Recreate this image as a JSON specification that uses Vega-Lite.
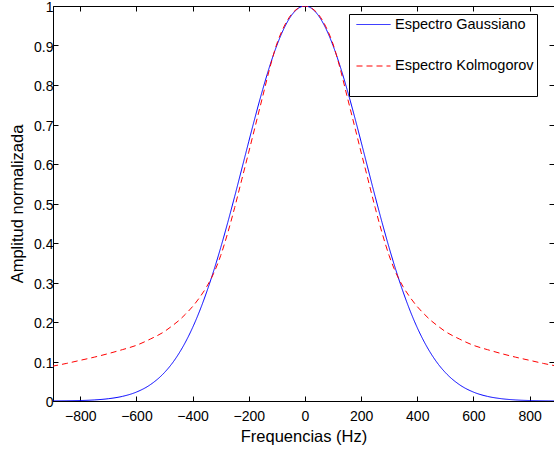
{
  "$schema": "https://vega.github.io/schema/vega-lite/v6.json",
  "width": 501,
  "height": 395,
  "autosize": "none",
  "padding": {"left": 53, "top": 6, "right": 0, "bottom": 53},
  "background": "white",
  "config": {
    "font": "Liberation Sans",
    "view": {"stroke": "black", "strokeWidth": 1},
    "axis": {
      "grid": false,
      "domainColor": "black",
      "tickColor": "black",
      "labelColor": "black",
      "titleColor": "black",
      "labelFont": "Liberation Sans",
      "titleFont": "Liberation Sans",
      "labelFontSize": 14,
      "titleFontSize": 16.5,
      "titleFontWeight": "normal",
      "tickSize": -5
    },
    "legend": {
      "labelFont": "Liberation Sans",
      "labelFontSize": 14.5,
      "labelColor": "black",
      "orient": "none",
      "legendX": 296,
      "legendY": 8,
      "strokeColor": "black",
      "fillColor": "white",
      "padding": 3,
      "symbolType": "M-2.43,0H2.43",
      "symbolSize": 196,
      "symbolStrokeWidth": 1,
      "symbolOffset": 14,
      "labelOffset": 14,
      "rowPadding": 26.5,
      "titleOrient": "bottom",
      "titleFontSize": 10,
      "titlePadding": 9.5,
      "titleColor": "white"
    }
  },
  "data": {
    "values": [
      {"f": -900, "a": 0.0002, "s": "Espectro Gaussiano"},
      {"f": -850, "a": 0.0005, "s": "Espectro Gaussiano"},
      {"f": -800, "a": 0.0012, "s": "Espectro Gaussiano"},
      {"f": -750, "a": 0.0027, "s": "Espectro Gaussiano"},
      {"f": -700, "a": 0.0058, "s": "Espectro Gaussiano"},
      {"f": -650, "a": 0.0117, "s": "Espectro Gaussiano"},
      {"f": -600, "a": 0.0226, "s": "Espectro Gaussiano"},
      {"f": -550, "a": 0.0415, "s": "Espectro Gaussiano"},
      {"f": -500, "a": 0.0721, "s": "Espectro Gaussiano"},
      {"f": -475, "a": 0.0931, "s": "Espectro Gaussiano"},
      {"f": -450, "a": 0.1188, "s": "Espectro Gaussiano"},
      {"f": -425, "a": 0.1495, "s": "Espectro Gaussiano"},
      {"f": -400, "a": 0.1857, "s": "Espectro Gaussiano"},
      {"f": -375, "a": 0.2277, "s": "Espectro Gaussiano"},
      {"f": -350, "a": 0.2756, "s": "Espectro Gaussiano"},
      {"f": -325, "a": 0.3291, "s": "Espectro Gaussiano"},
      {"f": -300, "a": 0.3879, "s": "Espectro Gaussiano"},
      {"f": -275, "a": 0.4513, "s": "Espectro Gaussiano"},
      {"f": -250, "a": 0.5181, "s": "Espectro Gaussiano"},
      {"f": -225, "a": 0.5871, "s": "Espectro Gaussiano"},
      {"f": -200, "a": 0.6565, "s": "Espectro Gaussiano"},
      {"f": -175, "a": 0.7246, "s": "Espectro Gaussiano"},
      {"f": -150, "a": 0.7892, "s": "Espectro Gaussiano"},
      {"f": -125, "a": 0.8484, "s": "Espectro Gaussiano"},
      {"f": -100, "a": 0.9001, "s": "Espectro Gaussiano"},
      {"f": -75, "a": 0.9425, "s": "Espectro Gaussiano"},
      {"f": -50, "a": 0.974, "s": "Espectro Gaussiano"},
      {"f": -25, "a": 0.9934, "s": "Espectro Gaussiano"},
      {"f": 0, "a": 1.0, "s": "Espectro Gaussiano"},
      {"f": 25, "a": 0.9934, "s": "Espectro Gaussiano"},
      {"f": 50, "a": 0.974, "s": "Espectro Gaussiano"},
      {"f": 75, "a": 0.9425, "s": "Espectro Gaussiano"},
      {"f": 100, "a": 0.9001, "s": "Espectro Gaussiano"},
      {"f": 125, "a": 0.8484, "s": "Espectro Gaussiano"},
      {"f": 150, "a": 0.7892, "s": "Espectro Gaussiano"},
      {"f": 175, "a": 0.7246, "s": "Espectro Gaussiano"},
      {"f": 200, "a": 0.6565, "s": "Espectro Gaussiano"},
      {"f": 225, "a": 0.5871, "s": "Espectro Gaussiano"},
      {"f": 250, "a": 0.5181, "s": "Espectro Gaussiano"},
      {"f": 275, "a": 0.4513, "s": "Espectro Gaussiano"},
      {"f": 300, "a": 0.3879, "s": "Espectro Gaussiano"},
      {"f": 325, "a": 0.3291, "s": "Espectro Gaussiano"},
      {"f": 350, "a": 0.2756, "s": "Espectro Gaussiano"},
      {"f": 375, "a": 0.2277, "s": "Espectro Gaussiano"},
      {"f": 400, "a": 0.1857, "s": "Espectro Gaussiano"},
      {"f": 425, "a": 0.1495, "s": "Espectro Gaussiano"},
      {"f": 450, "a": 0.1188, "s": "Espectro Gaussiano"},
      {"f": 475, "a": 0.0931, "s": "Espectro Gaussiano"},
      {"f": 500, "a": 0.0721, "s": "Espectro Gaussiano"},
      {"f": 550, "a": 0.0415, "s": "Espectro Gaussiano"},
      {"f": 600, "a": 0.0226, "s": "Espectro Gaussiano"},
      {"f": 650, "a": 0.0117, "s": "Espectro Gaussiano"},
      {"f": 700, "a": 0.0058, "s": "Espectro Gaussiano"},
      {"f": 750, "a": 0.0027, "s": "Espectro Gaussiano"},
      {"f": 800, "a": 0.0012, "s": "Espectro Gaussiano"},
      {"f": 850, "a": 0.0005, "s": "Espectro Gaussiano"},
      {"f": 900, "a": 0.0002, "s": "Espectro Gaussiano"},
      {"f": -900, "a": 0.088, "s": "Espectro Kolmogorov"},
      {"f": -850, "a": 0.095, "s": "Espectro Kolmogorov"},
      {"f": -800, "a": 0.103, "s": "Espectro Kolmogorov"},
      {"f": -750, "a": 0.111, "s": "Espectro Kolmogorov"},
      {"f": -700, "a": 0.12, "s": "Espectro Kolmogorov"},
      {"f": -650, "a": 0.13, "s": "Espectro Kolmogorov"},
      {"f": -600, "a": 0.141, "s": "Espectro Kolmogorov"},
      {"f": -550, "a": 0.157, "s": "Espectro Kolmogorov"},
      {"f": -500, "a": 0.176, "s": "Espectro Kolmogorov"},
      {"f": -475, "a": 0.189, "s": "Espectro Kolmogorov"},
      {"f": -450, "a": 0.203, "s": "Espectro Kolmogorov"},
      {"f": -425, "a": 0.22, "s": "Espectro Kolmogorov"},
      {"f": -400, "a": 0.239, "s": "Espectro Kolmogorov"},
      {"f": -375, "a": 0.262, "s": "Espectro Kolmogorov"},
      {"f": -350, "a": 0.289, "s": "Espectro Kolmogorov"},
      {"f": -325, "a": 0.323, "s": "Espectro Kolmogorov"},
      {"f": -300, "a": 0.368, "s": "Espectro Kolmogorov"},
      {"f": -275, "a": 0.425, "s": "Espectro Kolmogorov"},
      {"f": -250, "a": 0.49, "s": "Espectro Kolmogorov"},
      {"f": -225, "a": 0.56, "s": "Espectro Kolmogorov"},
      {"f": -200, "a": 0.63, "s": "Espectro Kolmogorov"},
      {"f": -175, "a": 0.701, "s": "Espectro Kolmogorov"},
      {"f": -150, "a": 0.772, "s": "Espectro Kolmogorov"},
      {"f": -125, "a": 0.843, "s": "Espectro Kolmogorov"},
      {"f": -100, "a": 0.904, "s": "Espectro Kolmogorov"},
      {"f": -75, "a": 0.947, "s": "Espectro Kolmogorov"},
      {"f": -50, "a": 0.977, "s": "Espectro Kolmogorov"},
      {"f": -25, "a": 0.994, "s": "Espectro Kolmogorov"},
      {"f": 0, "a": 1.0, "s": "Espectro Kolmogorov"},
      {"f": 25, "a": 0.994, "s": "Espectro Kolmogorov"},
      {"f": 50, "a": 0.977, "s": "Espectro Kolmogorov"},
      {"f": 75, "a": 0.947, "s": "Espectro Kolmogorov"},
      {"f": 100, "a": 0.904, "s": "Espectro Kolmogorov"},
      {"f": 125, "a": 0.843, "s": "Espectro Kolmogorov"},
      {"f": 150, "a": 0.772, "s": "Espectro Kolmogorov"},
      {"f": 175, "a": 0.701, "s": "Espectro Kolmogorov"},
      {"f": 200, "a": 0.63, "s": "Espectro Kolmogorov"},
      {"f": 225, "a": 0.56, "s": "Espectro Kolmogorov"},
      {"f": 250, "a": 0.49, "s": "Espectro Kolmogorov"},
      {"f": 275, "a": 0.425, "s": "Espectro Kolmogorov"},
      {"f": 300, "a": 0.368, "s": "Espectro Kolmogorov"},
      {"f": 325, "a": 0.323, "s": "Espectro Kolmogorov"},
      {"f": 350, "a": 0.289, "s": "Espectro Kolmogorov"},
      {"f": 375, "a": 0.262, "s": "Espectro Kolmogorov"},
      {"f": 400, "a": 0.239, "s": "Espectro Kolmogorov"},
      {"f": 425, "a": 0.22, "s": "Espectro Kolmogorov"},
      {"f": 450, "a": 0.203, "s": "Espectro Kolmogorov"},
      {"f": 475, "a": 0.189, "s": "Espectro Kolmogorov"},
      {"f": 500, "a": 0.176, "s": "Espectro Kolmogorov"},
      {"f": 550, "a": 0.157, "s": "Espectro Kolmogorov"},
      {"f": 600, "a": 0.141, "s": "Espectro Kolmogorov"},
      {"f": 650, "a": 0.13, "s": "Espectro Kolmogorov"},
      {"f": 700, "a": 0.12, "s": "Espectro Kolmogorov"},
      {"f": 750, "a": 0.111, "s": "Espectro Kolmogorov"},
      {"f": 800, "a": 0.103, "s": "Espectro Kolmogorov"},
      {"f": 850, "a": 0.095, "s": "Espectro Kolmogorov"},
      {"f": 900, "a": 0.088, "s": "Espectro Kolmogorov"}
    ]
  },
  "layer": [
    {
      "mark": {"type": "line", "strokeWidth": 1, "clip": true, "interpolate": "monotone"},
      "encoding": {
        "x": {
          "field": "f", "type": "quantitative",
          "scale": {"domain": [-897, 887], "nice": false, "zero": false},
          "axis": {"orient": "bottom", "title": "Frequencias (Hz)", "values": [-800, -600, -400, -200, 0, 200, 400, 600, 800], "labelPadding": 13, "titlePadding": 5}
        },
        "y": {
          "field": "a", "type": "quantitative",
          "scale": {"domain": [0, 1], "nice": false},
          "axis": {"orient": "left", "title": "Amplitud normalizada", "values": [0, 0.1, 0.2, 0.3, 0.4, 0.5, 0.6, 0.7, 0.8, 0.9, 1], "format": "~g", "labelPadding": 5, "labelOffset": 1.5, "labelFlush": false, "titlePadding": 8}
        },
        "color": {
          "field": "s", "type": "nominal",
          "scale": {"domain": ["Espectro Gaussiano", "Espectro Kolmogorov"], "range": ["#0000ff", "#ff0000"]},
          "legend": {"title": "\u00a0\u00a0\u00a0\u00a0\u00a0\u00a0\u00a0\u00a0\u00a0\u00a0\u00a0\u00a0\u00a0\u00a0\u00a0\u00a0\u00a0\u00a0\u00a0\u00a0\u00a0\u00a0\u00a0\u00a0\u00a0\u00a0\u00a0\u00a0\u00a0\u00a0\u00a0\u00a0\u00a0\u00a0\u00a0\u00a0\u00a0\u00a0\u00a0\u00a0\u00a0\u00a0\u00a0\u00a0\u00a0\u00a0\u00a0\u00a0\u00a0\u00a0\u00a0\u00a0\u00a0\u00a0\u00a0\u00a0\u00a0\u00a0\u00a0\u00a0\u00a0\u00a0\u00a0\u00a0\u00a0\u00a0\u00a0\u00a0\u00a0\u00a0\u00a0\u00a0\u00a0\u00a0\u00a0"}
        },
        "strokeDash": {
          "field": "s", "type": "nominal",
          "scale": {"domain": ["Espectro Gaussiano", "Espectro Kolmogorov"], "range": [[1, 0], [6, 4]]},
          "legend": {"title": "\u00a0\u00a0\u00a0\u00a0\u00a0\u00a0\u00a0\u00a0\u00a0\u00a0\u00a0\u00a0\u00a0\u00a0\u00a0\u00a0\u00a0\u00a0\u00a0\u00a0\u00a0\u00a0\u00a0\u00a0\u00a0\u00a0\u00a0\u00a0\u00a0\u00a0\u00a0\u00a0\u00a0\u00a0\u00a0\u00a0\u00a0\u00a0\u00a0\u00a0\u00a0\u00a0\u00a0\u00a0\u00a0\u00a0\u00a0\u00a0\u00a0\u00a0\u00a0\u00a0\u00a0\u00a0\u00a0\u00a0\u00a0\u00a0\u00a0\u00a0\u00a0\u00a0\u00a0\u00a0\u00a0\u00a0\u00a0\u00a0\u00a0\u00a0\u00a0\u00a0\u00a0\u00a0\u00a0"}
        }
      }
    },
    {
      "mark": {"type": "point", "opacity": 0},
      "encoding": {
        "x": {
          "field": "f", "type": "quantitative",
          "scale": {"domain": [-897, 887], "nice": false, "zero": false},
          "axis": {"orient": "top", "title": null, "labels": false, "domain": false, "values": [-800, -600, -400, -200, 0, 200, 400, 600, 800]}
        },
        "y": {
          "field": "a", "type": "quantitative",
          "scale": {"domain": [0, 1], "nice": false},
          "axis": {"orient": "right", "title": null, "labels": false, "domain": false, "values": [0, 0.1, 0.2, 0.3, 0.4, 0.5, 0.6, 0.7, 0.8, 0.9, 1]}
        }
      }
    }
  ],
  "resolve": {"axis": {"x": "independent", "y": "independent"}}
}
